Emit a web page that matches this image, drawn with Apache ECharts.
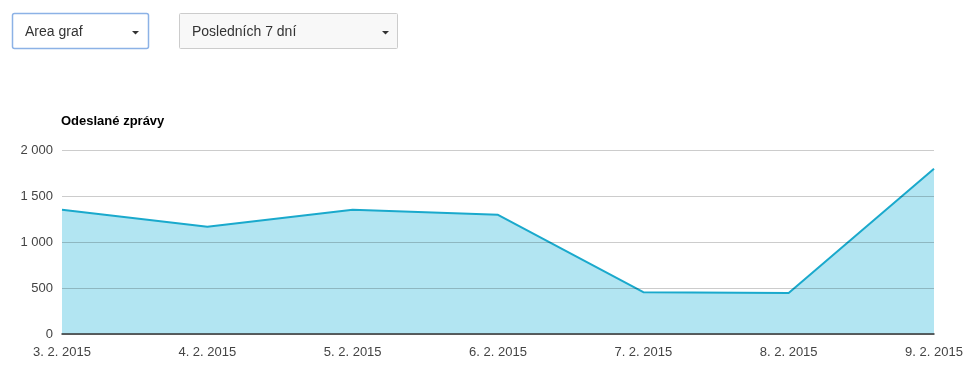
<!DOCTYPE html>
<html><head><meta charset="utf-8">
<script src="https://cdn.jsdelivr.net/npm/echarts@6/dist/echarts.min.js"></script>
<style>html,body{margin:0;padding:0;background:#fff}#c{width:980px;height:373px}</style>
</head><body><div id="c"></div>
<script>
const categories = ['3. 2. 2015','4. 2. 2015','5. 2. 2015','6. 2. 2015','7. 2. 2015','8. 2. 2015','9. 2. 2015'];
const sentMessages = [1350, 1165, 1350, 1295, 455, 445, 1795];
const yTicks = [0, 500, 1000, 1500, 2000];
const seriesName = 'Odeslané zprávy';
const dropdownLabels = ['Area graf', 'Posledních 7 dní'];

const FONT = '"Liberation Sans", Arial, sans-serif';
const fmt = v => String(v).replace(/\B(?=(\d{3})+(?!\d))/g, ' ');

const chart = echarts.init(document.getElementById('c'));
function caret(x, y) {
  return { type: 'polygon', shape: { points: [[x, y], [x + 7, y], [x + 3.5, y + 3.5]] }, style: { fill: '#333' } };
}
chart.setOption({
  animation: false,
  grid: { left: 62, right: 46, top: 150, bottom: 39 },
  graphic: [
    { type: 'rect', shape: { x: 12.5, y: 13.5, width: 136, height: 35, r: 2 }, style: { fill: '#fff', stroke: '#8cb2e6', lineWidth: 1.5 } },
    { type: 'text', left: 25, top: 25, style: { text: dropdownLabels[0], font: '14px ' + FONT, fill: '#333' } },
    caret(132, 31),
    { type: 'rect', shape: { x: 179.5, y: 13.5, width: 218, height: 35, r: 1 }, style: { fill: '#f8f8f8', stroke: '#ccc', lineWidth: 1 } },
    { type: 'text', left: 192, top: 25, style: { text: dropdownLabels[1], font: '14px ' + FONT, fill: '#333' } },
    caret(382, 31),
    { type: 'text', left: 61, top: 115, style: { text: seriesName, font: 'bold 13px ' + FONT, fill: '#000' } }
  ],
  xAxis: {
    type: 'category', data: categories, boundaryGap: false, z: 4,
    axisLine: { lineStyle: { color: '#333', width: 1.5 } },
    axisTick: { show: false },
    axisLabel: { color: '#444', fontFamily: FONT, fontSize: 13, margin: 12, showMinLabel: true, showMaxLabel: true }
  },
  yAxis: {
    type: 'value', min: yTicks[0], max: yTicks[yTicks.length - 1], interval: 500, z: 3,
    axisLine: { show: false }, axisTick: { show: false },
    splitLine: { lineStyle: { color: 'rgba(0,0,0,0.2)' } },
    axisLabel: { color: '#444', fontFamily: FONT, fontSize: 13, margin: 9, formatter: v => fmt(v) }
  },
  series: [{
    name: seriesName, type: 'line', data: sentMessages, symbol: 'none',
    lineStyle: { color: '#1aa9cc', width: 2 },
    areaStyle: { color: '#b2e5f2', opacity: 1 },
    z: 1
  }]
});
</script></body></html>
